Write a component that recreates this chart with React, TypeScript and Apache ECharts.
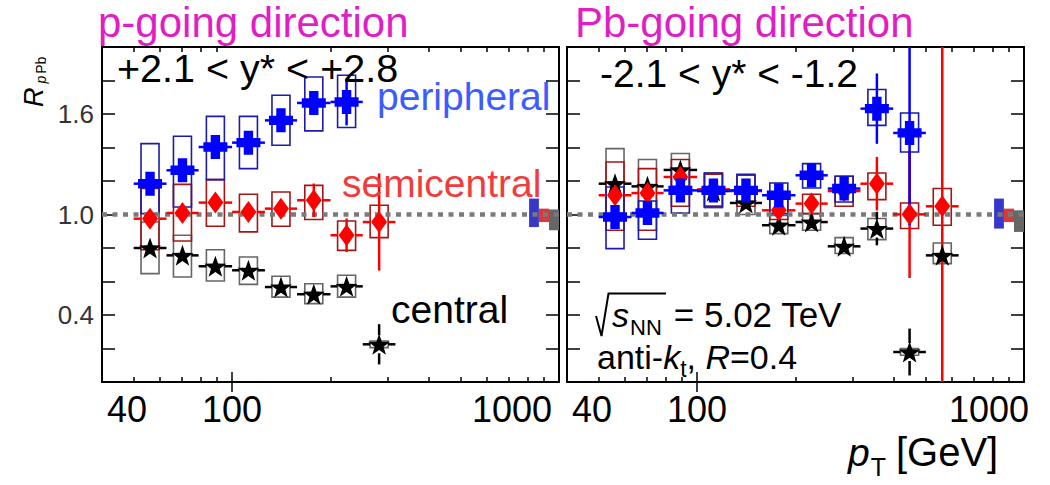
import React, { useEffect, useRef } from "react";
import * as echarts from "echarts";

const FONT = "'Liberation Sans', Arial, Helvetica, sans-serif";

// ---------------- data ----------------
// jet pT bins [GeV]
const BIN_EDGES = [50, 63, 79, 100, 126, 158, 200, 251, 316, 398, 501, 631, 794];
const BIN_CENTERS = [56.1, 70.5, 88.9, 112.2, 141.1, 177.8, 224.0, 281.7, 354.8, 446.7, 562.3, 707.9];

// p-going direction, +2.1 < y* < +2.8
const pPeripheral = [1.184, 1.264, 1.403, 1.429, 1.562, 1.666, 1.672];
const pPeripheralStat = [0.03, 0.03, 0.03, 0.03, 0.04, 0.07, 0.14];
const pPeripheralSysLo = [1.005, 1.045, 1.208, 1.274, 1.413, 1.499, 1.519];
const pPeripheralSysHi = [1.423, 1.467, 1.586, 1.586, 1.712, 1.821, 1.831];

const pSemicentral = [0.975, 1.009, 1.071, 1.015, 1.035, 1.085, 0.876, 0.955];
const pSemicentralStat = [0.03, 0.03, 0.04, 0.04, 0.04, 0.1, 0.1, 0.29];
const pSemicentralSysLo = [0.79, 0.842, 0.93, 0.896, 0.93, 0.97, 0.786, 0.862];
const pSemicentralSysHi = [1.155, 1.18, 1.208, 1.121, 1.134, 1.174, 0.961, 1.055];

const pCentral = [0.8, 0.756, 0.691, 0.667, 0.567, 0.524, 0.571, 0.225];
const pCentralStat = [0.03, 0.03, 0.03, 0.03, 0.03, 0.03, 0.04, 0.12];
const pCentralSysLo = [0.647, 0.627, 0.603, 0.583, 0.507, 0.468, 0.507, 0.205];
const pCentralSysHi = [0.955, 0.876, 0.79, 0.746, 0.631, 0.587, 0.637, 0.245];

// Pb-going direction, -2.1 < y* < -1.2
const pbPeripheral = [0.985, 1.009, 1.144, 1.144, 1.144, 1.115, 1.234, 1.155, 1.632, 1.487];
const pbPeripheralStat = [0.03, 0.03, 0.03, 0.03, 0.04, 0.04, 0.05, 0.05, 0.21, 0.55];
const pbPeripheralSysLo = [0.796, 0.852, 1.009, 1.045, 1.069, 1.005, 1.158, 1.075, 1.532, 1.373];
const pbPeripheralSysHi = [1.164, 1.081, 1.274, 1.248, 1.24, 1.188, 1.304, 1.228, 1.746, 1.606];

const pbSemicentral = [1.115, 1.128, 1.224, 1.15, 1.14, 1.025, 1.065, 1.14, 1.184, 1.001, 1.049];
const pbSemicentralStat = [0.03, 0.03, 0.04, 0.03, 0.04, 0.05, 0.05, 0.05, 0.16, 0.38, 2.2];
const pbSemicentralSysLo = [0.906, 0.906, 1.049, 1.05, 1.049, 0.97, 1.005, 1.049, 1.089, 0.916, 0.936];
const pbSemicentralSysHi = [1.313, 1.274, 1.328, 1.24, 1.234, 1.115, 1.121, 1.228, 1.248, 1.069, 1.155];

const pbCentral = [1.184, 1.168, 1.266, 1.14, 1.069, 0.936, 0.955, 0.81, 0.916, 0.179, 0.756];
const pbCentralStat = [0.03, 0.03, 0.03, 0.03, 0.03, 0.03, 0.03, 0.04, 0.1, 0.14, 0.05];
const pbCentralSysLo = [0.97, 1.0, 1.168, 1.04, 1.0, 0.886, 0.906, 0.767, 0.85, 0.16, 0.707];
const pbCentralSysHi = [1.393, 1.328, 1.364, 1.248, 1.14, 0.995, 1.005, 0.862, 0.976, 0.2, 0.83];

// normalisation uncertainty boxes at unity: [lo, hi] for peripheral, semicentral, central
const pNorm = [[0.925, 1.095], [0.955, 1.035], [0.906, 1.03]];
const pbNorm = [[0.916, 1.095], [0.955, 1.035], [0.896, 1.025]];
const NORM_X = [[810, 868], [868, 932], [932, 1000]];

// axes
const X_MIN = 40;
const X_MAX = 1000;
const X_LABELS = [40, 100, 1000];
const X_MINOR = [50, 60, 70, 80, 90, 200, 300, 400, 500, 600, 700, 800, 900];
const X_MAJOR = [100];
const Y_MIN = 0;
const Y_MAX = 2;
const Y_STEP = 0.2;
const Y_LABELS = [0.4, 1.0, 1.6];
const UNITY = 1;

// ---------------- style ----------------
const COL = {
  periph: "#0000ff",
  periphBox: "#1c1ca8",
  periphNorm: "#3538c8",
  semi: "#ff0000",
  semiBox: "#a31616",
  semiNorm: "#d83a3a",
  central: "#000000",
  centralBox: "#666666",
  centralNorm: "#666666",
  title: "#e01ec6",
  periphText: "#3c5cff",
  semiText: "#f03c3c",
};

const CROSS = "path://M7,0 L16,0 L16,7 L23,7 L23,16 L16,16 L16,23 L7,23 L7,16 L0,16 L0,7 L7,7 Z";
const STAR =
  "path://M50,0 L61.76,33.82 L97.55,34.55 L69.02,56.18 L79.39,90.45 L50,70 L20.61,90.45 L30.98,56.18 L2.45,34.55 L38.24,33.82 Z";

const GRIDS = [
  { left: 102, top: 47, width: 457, height: 335 },
  { left: 567, top: 47, width: 457, height: 335 },
];
const BOX_HALF = 9;
const GAP = 9;

function measure(text: string, size: number, italic: boolean): number {
  const m: any = measure as any;
  if (!m.ctx) m.ctx = document.createElement("canvas").getContext("2d");
  m.ctx.font = `${italic ? "italic " : ""}${size}px ${FONT}`;
  return m.ctx.measureText(text).width;
}

type Piece = { text: string; size: number; italic?: boolean; dy?: number; after?: number; fill?: string };
function run(x0: number, baseline: number, pieces: Piece[], fill: string): any[] {
  let x = x0;
  const out: any[] = [];
  for (const p of pieces) {
    out.push({
      type: "text",
      x,
      y: baseline + (p.dy || 0) - 0.35 * p.size,
      silent: true,
      z: 100,
      style: {
        text: p.text,
        fontSize: p.size,
        fontFamily: FONT,
        fontStyle: p.italic ? "italic" : "normal",
        fill: p.fill || fill,
        textAlign: "left",
        textVerticalAlign: "middle",
      },
    });
    x += measure(p.text, p.size, !!p.italic) + (p.after || 0);
  }
  return out;
}

function xAxes(grid: number, minShift: number, maxShift: number) {
  const base: any = {
    type: "log",
    logBase: 10,
    gridIndex: grid,
    min: X_MIN,
    max: X_MAX,
    splitLine: { show: false },
    minorTick: { show: false },
    axisPointer: { show: false },
  };
  const line = { show: true, onZero: false, lineStyle: { color: "#000", width: 2 } };
  const tick = (vals: number[], len: number) => ({
    show: true,
    inside: true,
    length: len,
    customValues: vals,
    lineStyle: { color: "#000", width: 1.5 },
  });
  return [
    {
      ...base,
      position: "bottom",
      axisLine: line,
      axisTick: tick(X_MINOR, 5),
      axisLabel: {
        show: true,
        customValues: X_LABELS,
        showMinLabel: true,
        showMaxLabel: true,
        margin: 9,
        formatter: (v: number) => {
          const r = Math.round(v);
          if (r === X_MIN) return `{l|${r}}`;
          if (r === X_MAX) return `{r|${r}}`;
          return `{m|${r}}`;
        },
        rich: {
          l: { fontSize: 36, fontFamily: FONT, color: "#000", padding: [0, 0, 0, minShift * 2] },
          m: { fontSize: 36, fontFamily: FONT, color: "#000" },
          r: { fontSize: 36, fontFamily: FONT, color: "#000", padding: [0, maxShift * 2, 0, 0] },
        },
      },
    },
    { ...base, position: "bottom", axisLine: { show: false }, axisTick: tick(X_MAJOR, 10), axisLabel: { show: false } },
    { ...base, position: "top", axisLine: line, axisTick: tick(X_MINOR, 5), axisLabel: { show: false } },
    { ...base, position: "top", axisLine: { show: false }, axisTick: tick(X_MAJOR, 10), axisLabel: { show: false } },
  ];
}

function yAxes(grid: number, labels: boolean) {
  const base: any = {
    type: "value",
    gridIndex: grid,
    min: Y_MIN,
    max: Y_MAX,
    interval: Y_STEP,
    splitLine: { show: false },
    axisLine: { show: true, onZero: false, lineStyle: { color: "#000", width: 2 } },
    axisTick: { show: true, inside: true, length: 13, lineStyle: { color: "#000", width: 1.5 } },
  };
  return [
    {
      ...base,
      position: "left",
      axisLabel: {
        show: labels,
        margin: 8,
        fontSize: 26,
        fontFamily: FONT,
        color: "#333",
        formatter: (v: number) => (Y_LABELS.some((t) => Math.abs(t - v) < 1e-6) ? v.toFixed(1) : ""),
      },
    },
    { ...base, position: "right", axisLabel: { show: false } },
  ];
}

function boxSeries(xi: number, yi: number, lo: number[], hi: number[], color: string) {
  return {
    type: "custom",
    xAxisIndex: xi,
    yAxisIndex: yi,
    clip: true,
    silent: true,
    z: 3,
    data: lo.map((l, i) => [BIN_CENTERS[i], l, hi[i]]),
    renderItem: (_p: any, api: any) => {
      const x = api.value(0);
      const a = api.coord([x, api.value(1)]);
      const b = api.coord([x, api.value(2)]);
      return {
        type: "rect",
        shape: { x: a[0] - BOX_HALF, y: b[1], width: 2 * BOX_HALF, height: a[1] - b[1] },
        style: { fill: "none", stroke: color, lineWidth: 1.6 },
      };
    },
  };
}

function errSeries(xi: number, yi: number, vals: number[], stat: number[], color: string) {
  return {
    type: "custom",
    xAxisIndex: xi,
    yAxisIndex: yi,
    clip: true,
    silent: true,
    z: 4,
    data: vals.map((v, i) => [BIN_CENTERS[i], v, stat[i], BIN_EDGES[i], BIN_EDGES[i + 1]]),
    renderItem: (_p: any, api: any) => {
      const x = api.value(0);
      const v = api.value(1);
      const e = api.value(2);
      const c = api.coord([x, v]);
      const t = api.coord([x, v + e]);
      const b = api.coord([x, v - e]);
      const l = api.coord([api.value(3), v]);
      const r = api.coord([api.value(4), v]);
      const st = { stroke: color, lineWidth: 2.5 };
      const ch: any[] = [];
      if (c[0] - l[0] > GAP) ch.push({ type: "line", shape: { x1: l[0], y1: c[1], x2: c[0] - GAP, y2: c[1] }, style: st });
      if (r[0] - c[0] > GAP) ch.push({ type: "line", shape: { x1: c[0] + GAP, y1: c[1], x2: r[0], y2: c[1] }, style: st });
      if (c[1] - t[1] > GAP) ch.push({ type: "line", shape: { x1: c[0], y1: t[1], x2: c[0], y2: c[1] - GAP }, style: st });
      if (b[1] - c[1] > GAP) ch.push({ type: "line", shape: { x1: c[0], y1: c[1] + GAP, x2: c[0], y2: b[1] }, style: st });
      return { type: "group", children: ch };
    },
  };
}

function markerSeries(xi: number, yi: number, vals: number[], symbol: string, size: any, color: string, z: number) {
  return {
    type: "scatter",
    xAxisIndex: xi,
    yAxisIndex: yi,
    symbol,
    symbolSize: size,
    silent: true,
    z,
    itemStyle: { color, opacity: 1 },
    data: vals.map((v, i) => [BIN_CENTERS[i], v]),
  };
}

function normSeries(xi: number, yi: number, norm: number[][], colors: string[]) {
  return {
    type: "custom",
    xAxisIndex: xi,
    yAxisIndex: yi,
    clip: false,
    silent: true,
    z: 3,
    data: norm.map((n, i) => [NORM_X[i][0], n[0], NORM_X[i][1], n[1], i]),
    renderItem: (_p: any, api: any) => {
      const a = api.coord([api.value(0), api.value(1)]);
      const b = api.coord([api.value(2), api.value(3)]);
      return {
        type: "rect",
        shape: { x: a[0], y: b[1], width: b[0] - a[0], height: a[1] - b[1] },
        style: { fill: colors[api.value(4)] },
      };
    },
  };
}

function unitySeries(xi: number, yi: number) {
  return {
    type: "line",
    xAxisIndex: xi,
    yAxisIndex: yi,
    symbol: "none",
    silent: true,
    z: 3,
    lineStyle: { color: "#7a7a7a", width: 4.5, type: [5, 5.5] },
    data: [
      [X_MIN, UNITY],
      [X_MAX, UNITY],
    ],
  };
}

function panelSeries(
  xi: number,
  yi: number,
  periph: number[][],
  semi: number[][],
  central: number[][],
  norm: number[][]
) {
  return [
    unitySeries(xi, yi),
    normSeries(xi, yi, norm, [COL.periphNorm, COL.semiNorm, COL.centralNorm]),
    boxSeries(xi, yi, central[2], central[3], COL.centralBox),
    boxSeries(xi, yi, semi[2], semi[3], COL.semiBox),
    boxSeries(xi, yi, periph[2], periph[3], COL.periphBox),
    errSeries(xi, yi, central[0], central[1], COL.central),
    errSeries(xi, yi, semi[0], semi[1], COL.semi),
    errSeries(xi, yi, periph[0], periph[1], COL.periph),
    markerSeries(xi, yi, central[0], STAR, [22, 21], COL.central, 5),
    markerSeries(xi, yi, semi[0], "diamond", [16, 22], COL.semi, 6),
    markerSeries(xi, yi, periph[0], CROSS, 24, COL.periph, 7),
  ];
}

function buildGraphics(): any[] {
  const g: any[] = [];
  g.push(...run(98, 37, [{ text: "p-going direction", size: 42 }], COL.title));
  g.push(...run(575, 37, [{ text: "Pb-going direction", size: 42 }], COL.title));
  g.push(...run(117, 82, [{ text: "+2.1 < y* < +2.8", size: 39.5 }], "#000"));
  g.push(...run(600, 87, [{ text: "-2.1 < y* < -1.2", size: 39 }], "#000"));
  g.push(...run(377, 110, [{ text: "peripheral", size: 39 }], COL.periphText));
  g.push(...run(342, 197, [{ text: "semicentral", size: 39 }], COL.semiText));
  g.push(...run(391, 323, [{ text: "central", size: 39 }], "#000"));
  // sqrt(s_NN) = 5.02 TeV
  g.push({
    type: "polyline",
    silent: true,
    z: 100,
    shape: { points: [[596, 316], [601.5, 336], [608.5, 293.5], [666, 293.5]] },
    style: { stroke: "#000", lineWidth: 2, fill: "none" },
  });
  g.push(
    ...run(612, 327, [
      { text: "s", size: 34, italic: true, after: 1 },
      { text: "NN", size: 22, dy: 8, after: 12 },
      { text: "= 5.02 TeV", size: 35 },
    ], "#000")
  );
  g.push(
    ...run(597, 369, [
      { text: "anti-", size: 34 },
      { text: "k", size: 34, italic: true },
      { text: "t", size: 23, dy: 8 },
      { text: ", ", size: 34 },
      { text: "R", size: 34, italic: true },
      { text: "=0.4", size: 34 },
    ], "#000")
  );
  // x-axis title
  g.push(
    ...run(848, 466, [
      { text: "p", size: 39, italic: true, after: 1 },
      { text: "T", size: 25, dy: 10, after: 10 },
      { text: "[GeV]", size: 40 },
    ], "#000")
  );
  // y-axis title (rotated)
  const yt = run(0, 0, [
    { text: "R", size: 27, italic: true, after: 4 },
    { text: "p", size: 14, italic: true, dy: 3, after: 2 },
    { text: "Pb", size: 14, dy: 3 },
  ], "#000");
  g.push({ type: "group", x: 43, y: 107, rotation: Math.PI / 2, silent: true, children: yt });
  return g;
}

export default function App() {
  const ref = useRef<HTMLDivElement>(null);
  useEffect(() => {
    if (!ref.current) return;
    const chart = echarts.init(ref.current, undefined, { renderer: "svg" });
    const pP = [pPeripheral, pPeripheralStat, pPeripheralSysLo, pPeripheralSysHi];
    const pS = [pSemicentral, pSemicentralStat, pSemicentralSysLo, pSemicentralSysHi];
    const pC = [pCentral, pCentralStat, pCentralSysLo, pCentralSysHi];
    const bP = [pbPeripheral, pbPeripheralStat, pbPeripheralSysLo, pbPeripheralSysHi];
    const bS = [pbSemicentral, pbSemicentralStat, pbSemicentralSysLo, pbSemicentralSysHi];
    const bC = [pbCentral, pbCentralStat, pbCentralSysLo, pbCentralSysHi];
    chart.setOption({
      animation: false,
      backgroundColor: "#fff",
      textStyle: { fontFamily: FONT },
      grid: GRIDS.map((g) => ({ ...g, containLabel: false })),
      xAxis: [...xAxes(0, 25, 47), ...xAxes(1, 25, 35)],
      yAxis: [...yAxes(0, true), ...yAxes(1, false)],
      series: [...panelSeries(0, 0, pP, pS, pC, pNorm), ...panelSeries(4, 2, bP, bS, bC, pbNorm)],
      graphic: buildGraphics(),
    });
    return () => chart.dispose();
  }, []);
  return (
    <div
      ref={ref}
      style={{ position: "absolute", left: 0, top: 0, width: 1050, height: 485, background: "#fff" }}
    />
  );
}
